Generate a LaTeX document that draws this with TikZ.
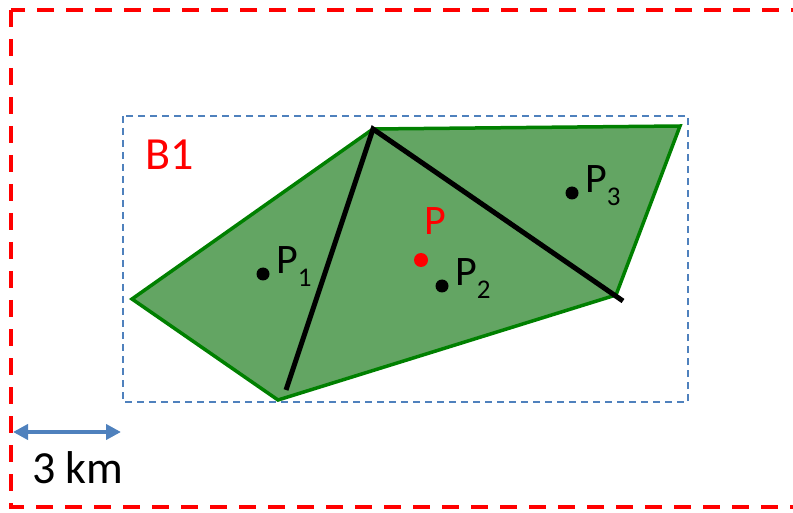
\documentclass[tikz,border=0pt]{standalone}
\usepackage{fontspec}
\setmainfont{Carlito}
\usetikzlibrary{arrows.meta,positioning}
\definecolor{zred}{RGB}{255,0,0}
\definecolor{zblue}{RGB}{79,129,189}
\definecolor{zfill}{RGB}{99,165,99}
\definecolor{zedge}{RGB}{0,128,0}
\tikzset{
  outer/.style={zred,line width=4pt,dash pattern=on 17pt off 12pt},
  bbox/.style={zblue,line width=1.5pt,dash pattern=on 7pt off 5pt},
  zone/.style={draw=zedge,fill=zfill,line width=3.5pt,line join=miter},
  cut/.style={black,line width=5pt,line join=miter},
  dot/.style={circle,fill=black,inner sep=0pt,minimum size=13pt},
  rdot/.style={dot,fill=zred,minimum size=14pt},
  plbl/.style={font=\fontsize{42}{42}\selectfont,inner sep=0pt,anchor=base west},
  big/.style={font=\fontsize{46}{46}\selectfont,inner sep=0pt,anchor=base west},
  ruler/.style={zblue,line width=4.5pt,{Triangle[length=15pt,width=15pt]}-{Triangle[length=15pt,width=15pt]}}
}
\newcommand{\psub}[1]{{\fontsize{27}{27}\selectfont\raisebox{-13pt}{#1}}}
\begin{document}
\begin{tikzpicture}[x=1pt,y=-1pt]
  \useasboundingbox (0,0) rectangle (793,513);
  \draw[outer] (11,10) rectangle (797,507);
  \draw[bbox] (123,116) rectangle (688,402);
  \coordinate (w) at (132,299);
  \coordinate (n) at (373,129);
  \coordinate (ne) at (680,126);
  \coordinate (e) at (616,295);
  \coordinate (s) at (278,400);
  \coordinate (cuts) at (286,390);
  \coordinate (cute) at (623,301);
  \draw[zone] (w) -- (n) -- (ne) -- (e) -- (s) -- cycle;
  \draw[cut] (cuts) -- (n) -- (cute);
  \node[big,zred] (b1) at (145,170) {B1};
  \node[dot] (p1) at (263,274) {};
  \node[dot] (p2) at (442,286) {};
  \node[dot] (p3) at (572,193) {};
  \node[rdot] (p) at (421,260) {};
  \node[plbl] (p1lbl) at ([xshift=13pt]p1.center) {P\psub{1}};
  \node[plbl] (p2lbl) at ([xshift=13pt]p2.center) {P\psub{2}};
  \node[plbl] (p3lbl) at ([xshift=13pt]p3.center) {P\psub{3}};
  \node[plbl,zred] (plbl) at ([xshift=3pt,yshift=25pt]p.center) {P};
  \coordinate (rl) at (13,432);
  \coordinate (rr) at (121,432);
  \draw[ruler] (rl) -- (rr);
  \node[big] (km) at (32,483) {3 km};
\end{tikzpicture}
\end{document}
